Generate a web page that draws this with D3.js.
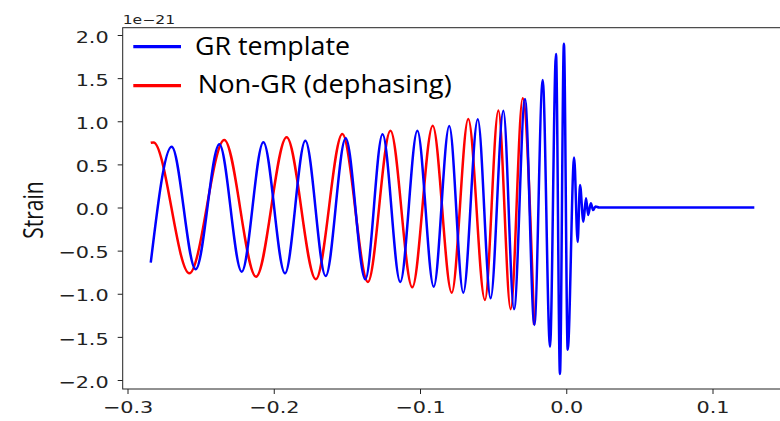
<!DOCTYPE html>
<html>
<head>
<meta charset="utf-8">
<script src="https://cdn.jsdelivr.net/npm/d3@7"></script>
<style>
body { margin: 0; background: #fff; }
</style>
</head>
<body>
<div id="chart"></div>
<script>
// peaks and troughs (time in s, strain in 1e-21)
const grTime = [-0.2841, -0.2698, -0.2534, -0.2372, -0.2219, -0.2071, -0.1923, -0.1784, -0.1645, -0.1508,
    -0.1374, -0.1256, -0.1135, -0.1018, -0.0906, -0.0800, -0.0704, -0.0605, -0.0517, -0.0430,
    -0.0357, -0.0282, -0.0218, -0.0161, -0.0111, -0.0070, -0.0043, -0.0016, 0.0010, 0.0054,
    0.0078, 0.0094, 0.0117, 0.0135, 0.0150, 0.0168, 0.0184, 0.0200, 0.0225, 0.1286];
const grStrain = [-0.64, 0.705, -0.717, 0.733, -0.744, 0.756, -0.763, 0.773, -0.794, 0.802,
    -0.833, 0.849, -0.863, 0.89, -0.918, 0.945, -0.988, 1.022, -1.053, 1.122,
    -1.18, 1.258, -1.362, 1.478, -1.614, 1.78, -1.93, 1.90, -1.65, 0.58,
    -0.40, 0.26, -0.165, 0.106, -0.087, 0.05, -0.03, 0.012, 0, 0];

const nonGrTime = [-0.2841, -0.2822, -0.2577, -0.2338, -0.2121, -0.1912, -0.1712, -0.1531, -0.1356, -0.1202,
    -0.1053, -0.0913, -0.0783, -0.0670, -0.0556, -0.0464, -0.0380, -0.0298, -0.0220];
const nonGrStrain = [0.75, 0.755, -0.763, 0.783, -0.802, 0.814, -0.831, 0.852, -0.864, 0.89,
    -0.925, 0.949, -0.988, 1.026, -1.072, 1.125, -1.18, 1.266, -1.36];

const xTicks = [-0.3, -0.2, -0.1, 0.0, 0.1];
const yTicks = [-2.0, -1.5, -1.0, -0.5, 0.0, 0.5, 1.0, 1.5, 2.0];
const seriesNames = ['GR template', 'Non-GR (dephasing)'];
const seriesColors = ['#0000ff', '#ff0000'];

const width = 780;
const height = 421;
const plot = {left: 122.7, top: 27.7, right: 784, bottom: 389};
const stretch = 1.3; // the picture is wider than tall, text too

const svg = d3.select('#chart')
    .append('svg')
    .attr('width', width)
    .attr('height', height);

const x = d3.scaleLinear()
    .domain([-0.3, 0.1])
    .range([127.5, 712.5]);

const y = d3.scaleLinear()
    .domain([-2, 2])
    .range([380, 35]);

svg.append('clipPath').attr('id', 'clip')
    .append('rect')
    .attr('x', plot.left).attr('y', plot.top)
    .attr('width', plot.right - plot.left).attr('height', plot.bottom - plot.top);

const line = d3.line()
    .x(d => x(d[0]))
    .y(d => y(d[1]))
    .curve(d3.curveMonotoneX);

const grData = d3.zip(grTime, grStrain);
const nonGrData = d3.zip(nonGrTime, nonGrStrain);

const lines = svg.append('g').attr('clip-path', 'url(#clip)');
lines.append('path')
    .datum(nonGrData)
    .attr('fill', 'none')
    .attr('stroke', seriesColors[1])
    .attr('stroke-width', 2.5)
    .attr('d', line);
lines.append('path')
    .datum(grData)
    .attr('fill', 'none')
    .attr('stroke', seriesColors[0])
    .attr('stroke-width', 2.5)
    .attr('d', line);

// axes
const fmt = d3.format('.1f');

svg.append('g')
    .attr('transform', `translate(0,${plot.bottom})`)
    .call(d3.axisBottom(x).tickValues(xTicks).tickFormat(fmt).tickSize(5).tickPadding(7.5))
    .call(g => g.select('.domain').remove())
    .call(g => g.selectAll('line').attr('stroke', '#222'))
    .call(g => g.selectAll('text')
        .attr('font-family', 'DejaVu Sans')
        .attr('font-size', 16)
        .attr('fill', '#222')
        .attr('transform', `scale(${stretch},1)`));

svg.append('g')
    .attr('transform', `translate(${plot.left},0)`)
    .call(d3.axisLeft(y).tickValues(yTicks).tickFormat(fmt).tickSize(5).tickPadding(9))
    .call(g => g.select('.domain').remove())
    .call(g => g.selectAll('line').attr('stroke', '#222'))
    .call(g => g.selectAll('text')
        .attr('font-family', 'DejaVu Sans')
        .attr('font-size', 16)
        .attr('fill', '#222')
        .attr('x', -14 / stretch)
        .attr('dy', '0.45em')
        .attr('transform', `scale(${stretch},1)`));

svg.append('rect')
    .attr('x', plot.left).attr('y', plot.top)
    .attr('width', plot.right - plot.left).attr('height', plot.bottom - plot.top)
    .attr('fill', 'none')
    .attr('stroke', '#222')
    .attr('stroke-width', 1);

svg.append('text')
    .attr('transform', `translate(${plot.left},24) scale(${stretch},1)`)
    .attr('font-family', 'DejaVu Sans')
    .attr('font-size', 12)
    .attr('fill', '#222')
    .text('1e\u221221');

svg.append('text')
    .attr('transform', `translate(43,210) scale(${stretch},1) rotate(-90)`)
    .attr('text-anchor', 'middle')
    .attr('font-family', 'Open Sans')
    .attr('font-size', 21)
    .attr('fill', '#111')
    .text('Strain');

// legend
const legend = svg.append('g');
const legendY = [46.7, 85.7];
const legendText = [{x: 195, y: 55, len: 155}, {x: 197.7, y: 93.3, len: 254}];
seriesNames.forEach((name, i) => {
    legend.append('line')
        .attr('x1', 133.3).attr('x2', 181)
        .attr('y1', legendY[i]).attr('y2', legendY[i])
        .attr('stroke', seriesColors[i])
        .attr('stroke-width', 3.3);
    legend.append('text')
        .attr('x', legendText[i].x)
        .attr('y', legendText[i].y)
        .attr('font-family', 'Open Sans')
        .attr('font-size', 25)
        .attr('textLength', legendText[i].len)
        .attr('lengthAdjust', 'spacingAndGlyphs')
        .attr('fill', '#000')
        .text(name);
});
</script>
</body>
</html>
